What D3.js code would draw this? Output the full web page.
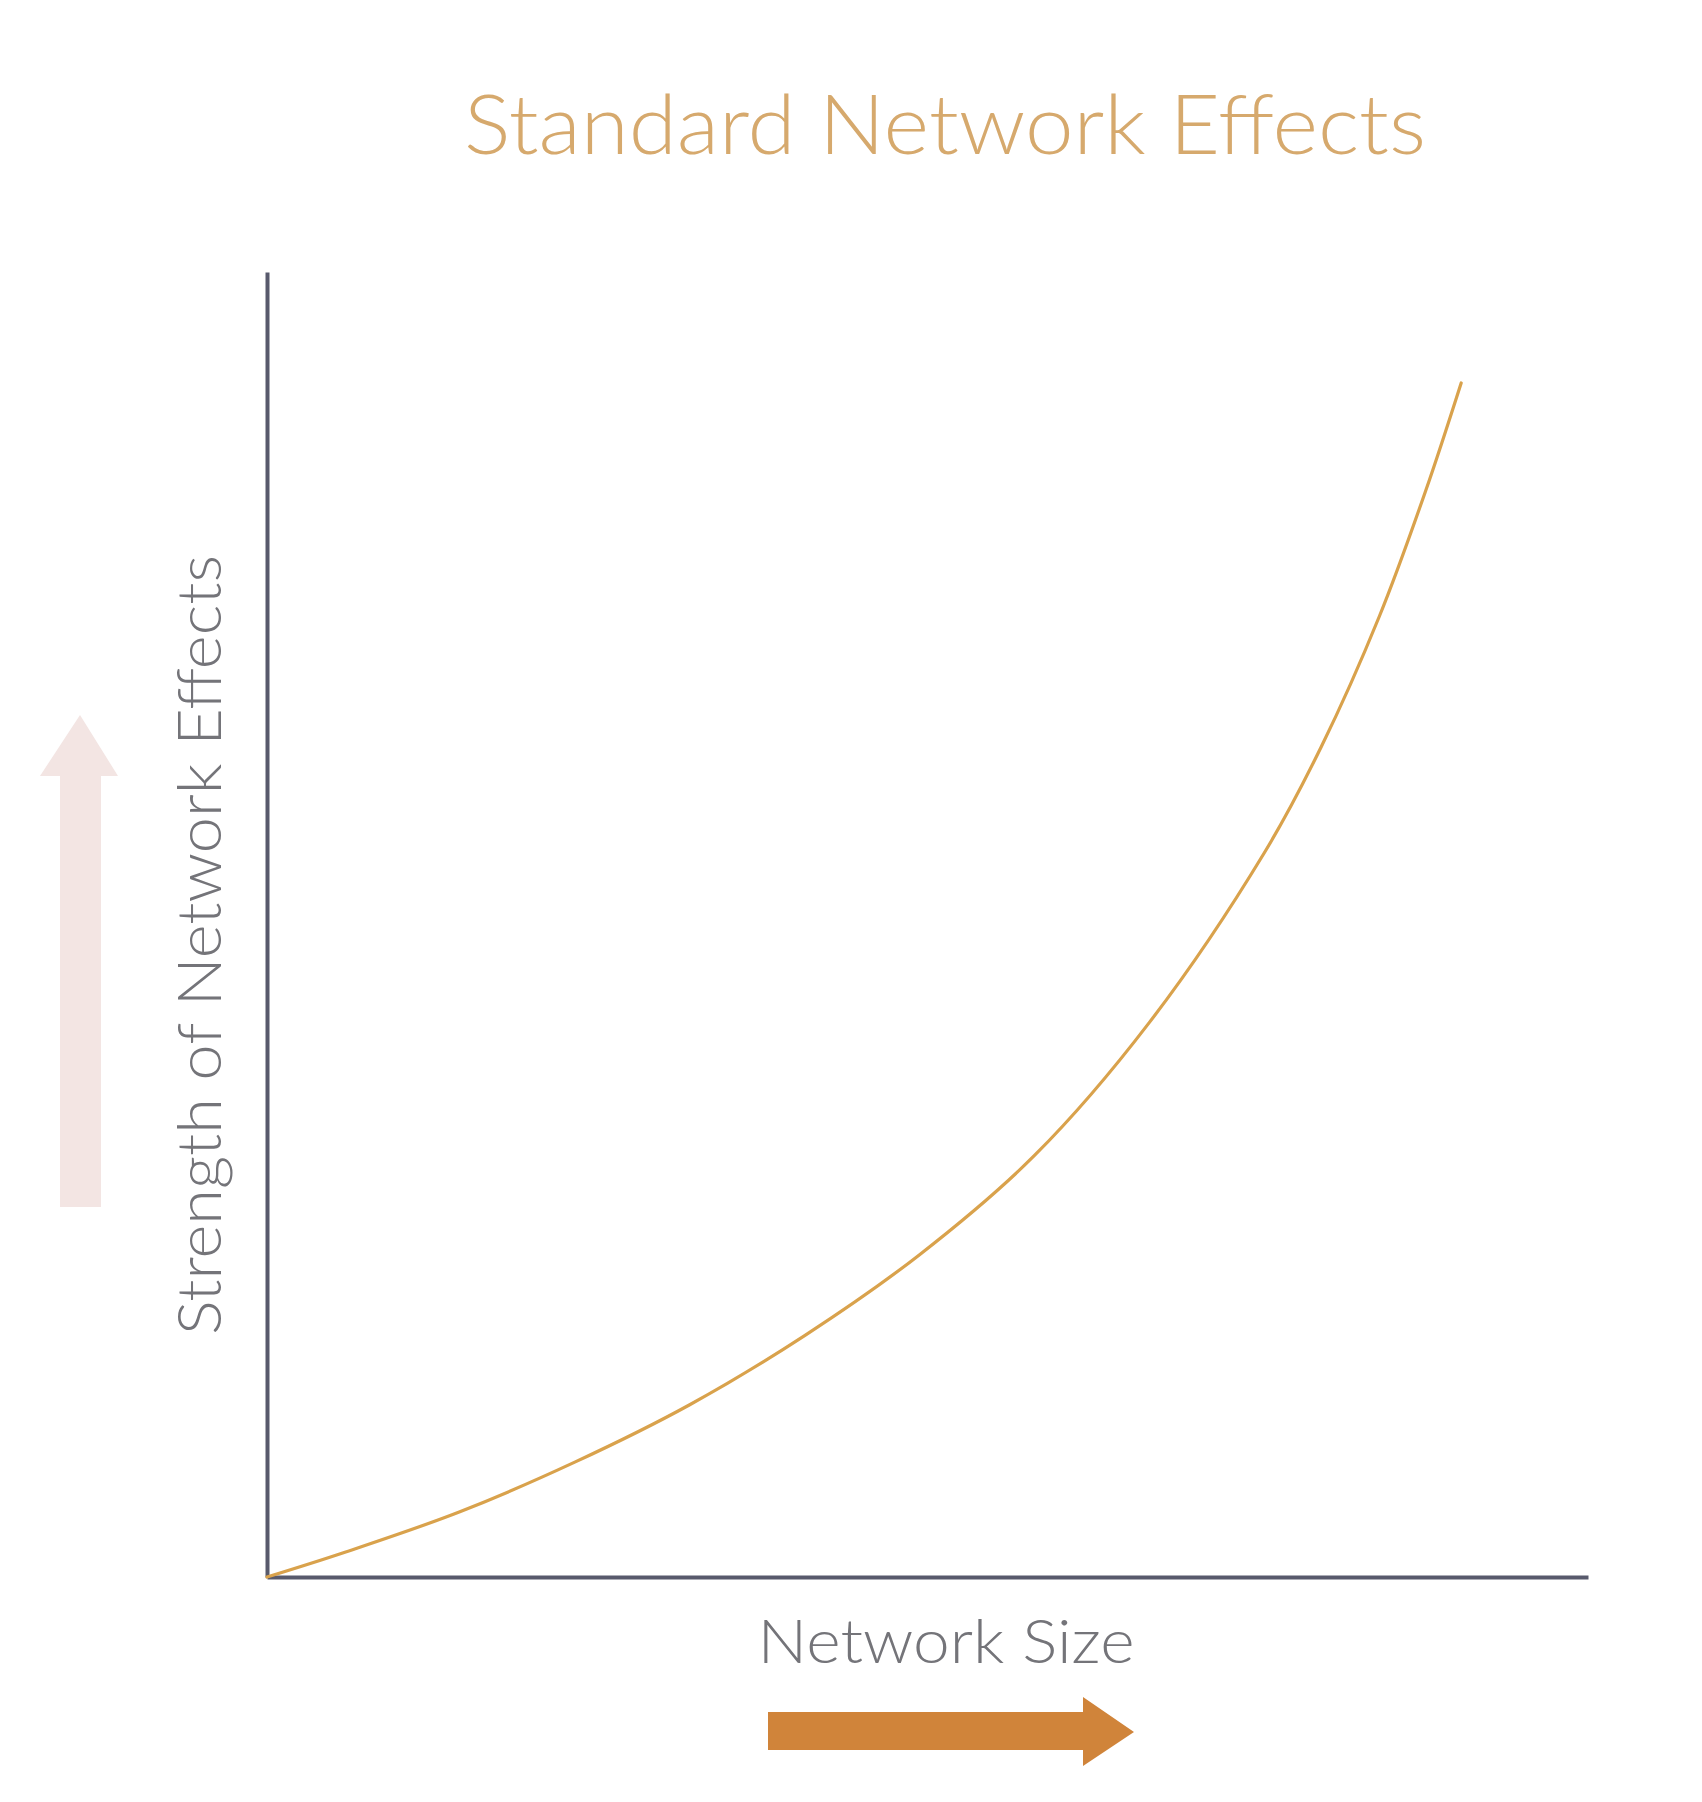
<!DOCTYPE html>
<html>
<head>
<meta charset="utf-8">
<script src="https://cdn.jsdelivr.net/npm/d3@7"></script>
<style>
  html, body { margin: 0; padding: 0; background: #fff; }
  text { font-family: Lato, "Open Sans", sans-serif; }
</style>
</head>
<body>
<svg id="chart"></svg>
<script>
// Curve values (network size vs strength, 0-100 scale)
const networkSize = [0, 5.9, 14.6, 23.3, 32.0, 40.7, 49.4, 58.1, 66.8, 75.5, 79.8, 84.2, 87.7, 90.4];
const strength    = [0, 1.9, 5.0, 8.8, 13.2, 18.5, 24.7, 32.3, 42.5, 55.5, 63.6, 73.6, 83.2, 91.5];

const title = "Standard Network Effects";
const xLabel = "Network Size";
const yLabel = "Strength of Network Effects";

const width = 1702;
const height = 1802;

const svg = d3.select("#chart")
  .attr("width", width)
  .attr("height", height);

// scales
const xScale = d3.scaleLinear()
  .domain([0, 100])
  .range([267, 1588]);

const yScale = d3.scaleLinear()
  .domain([0, 100])
  .range([1577, 272]);

// title
svg.append("text")
  .attr("x", 945)
  .attr("y", 154)
  .attr("text-anchor", "middle")
  .attr("fill", "#d6a96d")
  .style("font-size", "82px")
  .style("font-weight", 300)
  .attr("textLength", 962)
  .attr("lengthAdjust", "spacingAndGlyphs")
  .text(title);

// decorative arrows
const upArrow = [[60, 1207], [101, 1207], [101, 776], [118, 776], [80, 715], [40, 776], [60, 776]];
svg.append("path")
  .attr("d", d3.line()(upArrow) + "Z")
  .attr("fill", "#f3e5e3");

const rightArrow = [[768, 1712], [1083, 1712], [1083, 1697], [1134, 1732], [1083, 1766], [1083, 1750], [768, 1750]];
svg.append("path")
  .attr("d", d3.line()(rightArrow) + "Z")
  .attr("fill", "#d0843a");

// axes (plain lines, no ticks)
const xAxis = d3.axisBottom(xScale).tickValues([]).tickSizeOuter(0);
svg.append("g")
  .attr("transform", "translate(0," + yScale(0) + ")")
  .call(xAxis)
  .call(g => g.select(".domain").attr("stroke", "#585a6c").attr("stroke-width", 4));

const yAxis = d3.axisLeft(yScale).tickValues([]).tickSizeOuter(0);
svg.append("g")
  .attr("transform", "translate(" + xScale(0) + ",0)")
  .call(yAxis)
  .call(g => g.select(".domain").attr("stroke", "#585a6c").attr("stroke-width", 4));

// axis labels
svg.append("text")
  .attr("x", 946)
  .attr("y", 1663)
  .attr("text-anchor", "middle")
  .attr("fill", "#747479")
  .style("font-size", "62px")
  .style("font-weight", 300)
  .attr("textLength", 377)
  .attr("lengthAdjust", "spacingAndGlyphs")
  .text(xLabel);

svg.append("text")
  .attr("transform", "translate(221,945) rotate(-90)")
  .attr("text-anchor", "middle")
  .attr("fill", "#747479")
  .style("font-size", "62px")
  .style("font-weight", 300)
  .attr("textLength", 780)
  .attr("lengthAdjust", "spacingAndGlyphs")
  .text(yLabel);

// the curve
const points = networkSize.map((d, i) => [d, strength[i]]);
const line = d3.line()
  .x(d => xScale(d[0]))
  .y(d => yScale(d[1]))
  .curve(d3.curveCatmullRom.alpha(0.5));

svg.append("path")
  .datum(points)
  .attr("d", line)
  .attr("fill", "none")
  .attr("stroke", "#d9a24c")
  .attr("stroke-width", 3.2)
  .attr("stroke-linecap", "round");
</script>
</body>
</html>
